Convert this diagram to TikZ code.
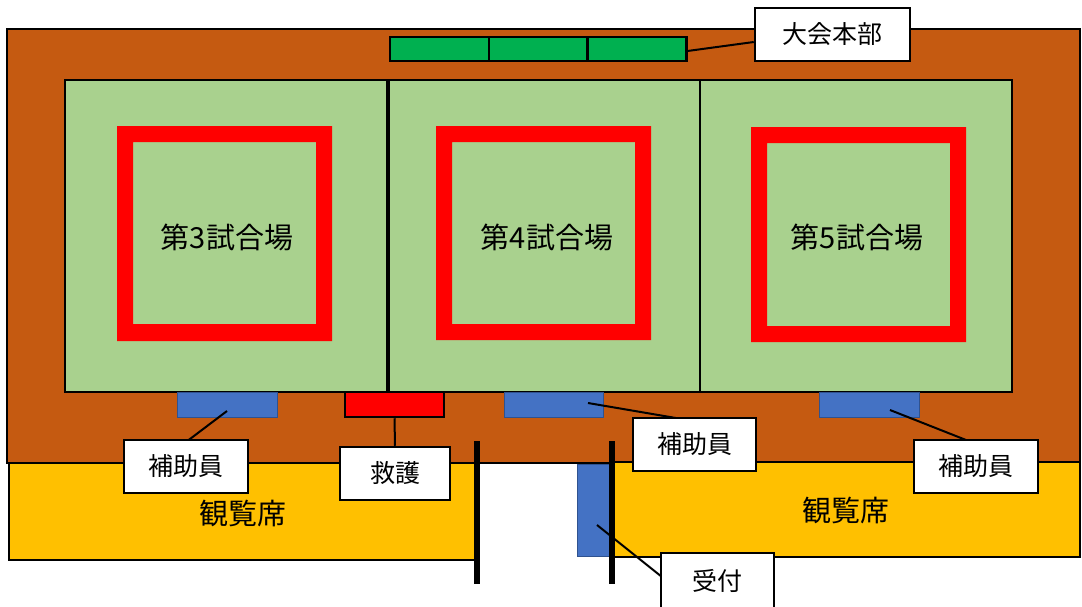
\documentclass[tikz,border=0pt]{standalone}
\usepackage{fontspec}
\setmainfont{Noto Sans CJK JP}
\usetikzlibrary{calc}
\definecolor{brn}{HTML}{C55A11}
\definecolor{fld}{HTML}{A9D18E}
\definecolor{ylw}{HTML}{FFC000}
\definecolor{hqg}{HTML}{00B050}
\definecolor{bfill}{HTML}{4472C4}
\definecolor{bedge}{HTML}{2F528F}
\definecolor{rd}{HTML}{FF0000}
\pgfdeclarelayer{bg}
\pgfdeclarelayer{cn}
\pgfsetlayers{bg,cn,main}
\tikzset{
  outl/.style={draw=black, line width=2.5pt},
  lbl/.style={draw=black, fill=white, line width=2.5pt, inner sep=0pt, font=\fontsize{25}{30}\selectfont},
  big/.style={inner sep=0pt, font=\fontsize{29}{34}\selectfont},
  blk/.style={fill=bfill, draw=bedge, line width=1pt, inner sep=0pt},
  hqbox/.style={fill=hqg, draw=black, line width=2.5pt, inner sep=0pt, minimum width=98.7pt, minimum height=24pt},
  redbox/.style={fill=rd, draw=black, line width=2.5pt, inner sep=0pt},
  wallline/.style={line width=6pt},
  conn/.style={line width=2pt}
}
\begin{document}
\begin{tikzpicture}[x=1pt,y=-1pt]
\useasboundingbox (0,0) rectangle (1082,606);
\begin{pgfonlayer}{bg}
\fill[white] (0,0) rectangle (1082,606);
% hall floor
\draw[outl, fill=brn] (7,29) rectangle (1080,463);
% spectator areas
\draw[outl, fill=ylw] (9,463) rectangle (477,560);
\draw[outl, fill=ylw] (612,462) rectangle (1080,557);
% fields
\draw[outl, fill=fld] (65,80) rectangle (388,392);
\draw[outl, fill=fld] (388,80) rectangle (700,392);
\draw[outl, fill=fld] (700,80) rectangle (1012,392);
\draw[line width=3.5pt] (388,80) -- (388,392);
% red squares
\fill[rd, even odd rule] (117,126) rectangle (332,341) (133,142) rectangle (316,324);
\fill[rd, even odd rule] (436,126) rectangle (651,340) (452,142) rectangle (635,324);
\fill[rd, even odd rule] (751,127) rectangle (966,342) (767,143) rectangle (950,326);
% HQ tables
\node[hqbox] (g1) at (439.5,49) {};
\node[hqbox] (g2) at (538.2,49) {};
\node[hqbox] (g3) at (636.9,49) {};
% helper / first aid tables
\node[blk, minimum width=100pt, minimum height=25pt] (b1) at (227,404.5) {};
\node[redbox, minimum width=99pt, minimum height=25pt] (kb) at (394.5,404.5) {};
\node[blk, minimum width=99pt, minimum height=25pt] (b2) at (553.5,404.5) {};
\node[blk, minimum width=100pt, minimum height=25pt] (b3) at (869,404.5) {};
\node[blk, minimum width=37pt, minimum height=92pt] (uk) at (595.5,510) {};
% walls
\draw[wallline] (477,441) -- (477,584);
\draw[wallline] (612,441) -- (612,584);
\end{pgfonlayer}
% texts
\node[big] (f3) at (227,237) {第3試合場};
\node[big] (f4) at (547,237) {第4試合場};
\node[big] (f5) at (857,237) {第5試合場};
\node[big] (s1) at (243,513) {観覧席};
\node[big] (s2) at (846,510) {観覧席};
% labels
\node[lbl, minimum width=155pt, minimum height=53pt] (hq) at (832.5,34.5) {大会本部};
\node[lbl, minimum width=124pt, minimum height=53pt] (h1) at (186,466.5) {補助員};
\node[lbl, minimum width=110pt, minimum height=53pt] (ky) at (395,473.5) {救護};
\node[lbl, minimum width=123pt, minimum height=53pt] (h2) at (694.5,444.5) {補助員};
\node[lbl, minimum width=124pt, minimum height=53pt] (h3) at (976,466.5) {補助員};
\node[lbl, minimum width=113pt, minimum height=55pt] (ut) at (717.5,580.5) {受付};
% connectors
\begin{pgfonlayer}{cn}
\draw[conn] ($(g3.east)+(0,2)$) -- ($(hq.west)+(0,7.5)$);
\draw[conn] ($(b1.center)+(0,6.5)$) -- ($(h1.north)+(-1,4)$);
\draw[conn] (kb.south) -- (ky.north);
\draw[conn] ($(b2.center)+(34.5,-1.5)$) -- ($(h2.north)+(-2.5,4)$);
\draw[conn] ($(b3.center)+(21,5.5)$) -- ($(h3.north)+(-3,4)$);
\draw[conn] ($(uk.center)+(1.5,15)$) -- ($(ut.west)+(1,-4.5)$);
\end{pgfonlayer}
\end{tikzpicture}
\end{document}
